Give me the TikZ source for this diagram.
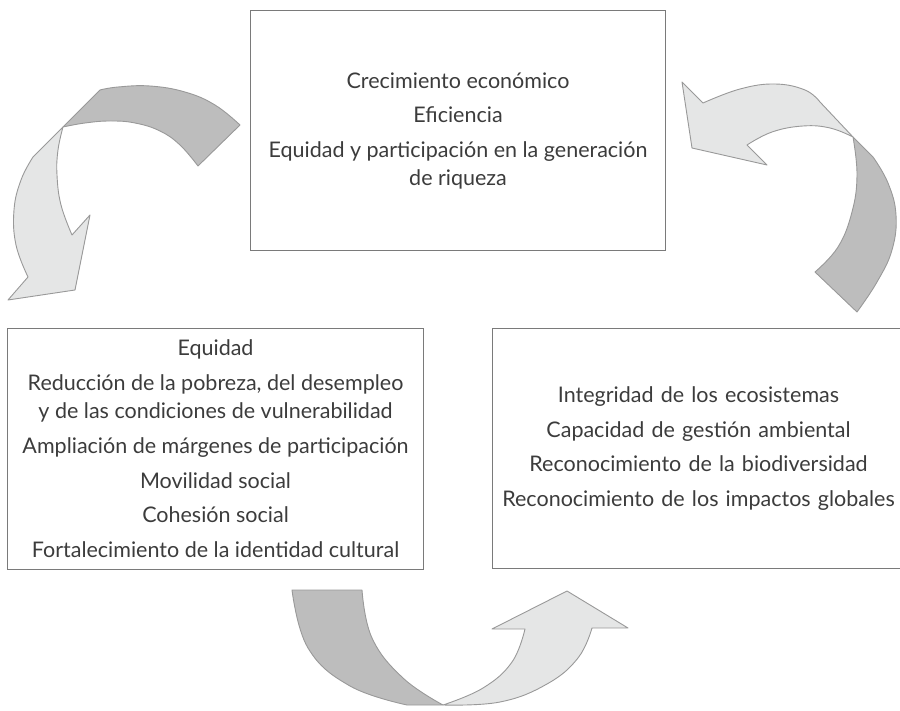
\documentclass[tikz,border=0pt]{standalone}
\usepackage{fontspec}
\setmainfont{Lato}
\definecolor{txtgray}{HTML}{3C3C3C}
\definecolor{boxgray}{HTML}{7A7A7A}
\definecolor{arrdark}{HTML}{BDBDBD}
\definecolor{arrlight}{HTML}{E5E6E6}
\definecolor{arredge}{HTML}{999999}
\begin{document}
\begin{tikzpicture}[x=1pt,y=-1pt,
  infobox/.style={draw=boxgray,line width=1.1pt,text=txtgray,align=center,
    font=\fontsize{21.5}{28}\selectfont,inner sep=0pt,anchor=north west},
  darkpart/.style={fill=arrdark,draw=arredge,line width=0.9pt,line join=round},
  lightpart/.style={fill=arrlight,draw=arredge,line width=0.9pt,line join=round}]
\useasboundingbox (0,0) rectangle (900,711);

% boxes
\node[infobox,minimum width=415pt,minimum height=240pt] (top) at (250,10)
  {Crecimiento económico\\[6.5pt]Eficiencia\\[6.5pt]Equidad y participación en la generación\\de riqueza};
\node[infobox,minimum width=416pt,minimum height=241pt] (left) at (7,328)
  {Equidad\\[7pt]Reducción de la pobreza, del desempleo\\y de las condiciones de vulnerabilidad\\[6.5pt]Ampliación de márgenes de participación\\[7pt]Movilidad social\\[6.5pt]Cohesión social\\[7pt]Fortalecimiento de la identidad cultural};
\node[infobox,minimum width=412pt,minimum height=240pt,text width=408pt] (right) at (492,328)
  {Integridad de los ecosistemas\\[6.5pt]Capacidad de gestión ambiental\\[6.5pt]Reconocimiento de la biodiversidad\\[6.5pt]Reconocimiento de los impactos globales};

% arrow 1 (top left)
\filldraw[darkpart] plot[smooth,tension=0.7] coordinates {(240,125) (215,105) (185,92) (150,86) (118,87) (100,90)}
  -- (63,127) -- plot[smooth,tension=0.7] coordinates {(63,127) (85,123) (110,121) (135,123) (160,131) (180,145) (198,166)} -- cycle;
\filldraw[lightpart] (63,127) -- (33,157) -- plot[smooth,tension=0.7] coordinates {(33,157) (21,180) (14,210) (16,245) (28,277)}
  -- (8,300) -- (75,290) -- (90,215) -- (72,235) -- plot[smooth,tension=0.7] coordinates {(72,235) (61,205) (57,175) (58,150) (63,127)} -- cycle;

% arrow 2 (top right)
\filldraw[lightpart] (682,82) -- (703,103) -- plot[smooth,tension=0.7] coordinates {(703,103) (740,89) (775,84) (805,90) (820,102)}
  -- (853,137) -- plot[smooth,tension=0.7] coordinates {(853,137) (830,128) (803,126) (772,132) (747,145)}
  -- (767,165) -- (692,148) -- cycle;
\filldraw[darkpart] (853,137) -- (873,157) -- plot[smooth,tension=0.7] coordinates {(873,157) (888,183) (896,215) (892,250) (877,282) (857,312)}
  -- (815,272) -- plot[smooth,tension=0.7] coordinates {(815,272) (838,247) (852,212) (857,175) (853,137)} -- cycle;

% arrow 3 (bottom)
\filldraw[darkpart] (292,590) -- (362,590) -- plot[smooth,tension=0.7] coordinates {(362,590) (372,638) (403,678) (443,705)}
  -- (407,705) -- plot[smooth,tension=0.7] coordinates {(407,705) (350,686) (308,648) (292,590)} -- cycle;
\filldraw[lightpart] (443,705) -- plot[smooth,tension=0.7] coordinates {(443,705) (483,688) (512,662) (525,629)}
  -- (492,629) -- (567,591) -- (628,628) -- (592,628) -- plot[smooth,tension=0.7] coordinates {(592,628) (578,658) (547,684) (500,702) (443,705)} -- cycle;
\end{tikzpicture}
\end{document}
